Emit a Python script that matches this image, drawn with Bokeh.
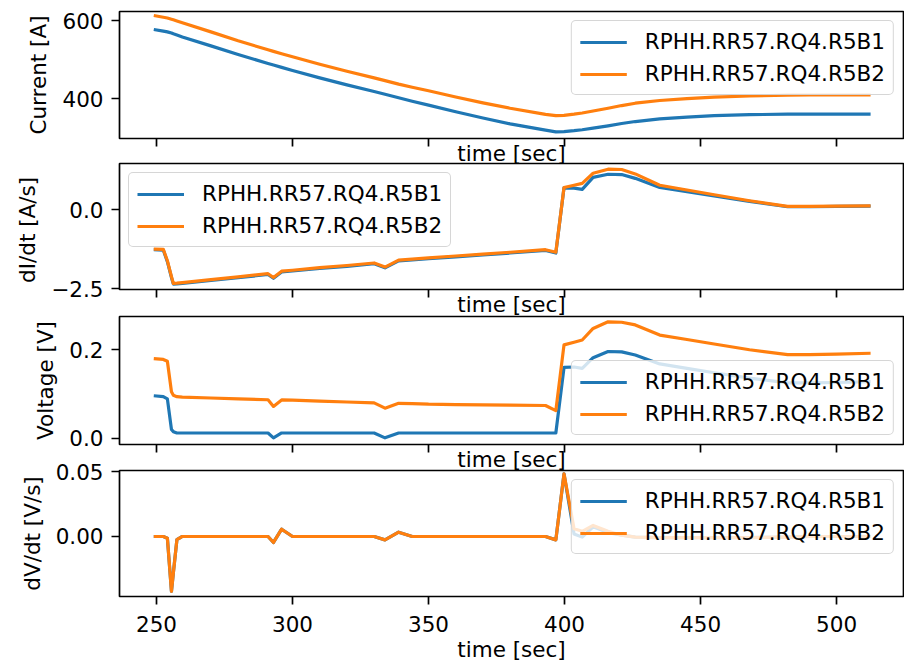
from bokeh.plotting import figure
from bokeh.layouts import column
from bokeh.models import Range1d, FixedTicker, Legend, LegendItem, CustomLabelingPolicy
from bokeh.embed import file_html
from bokeh.resources import INLINE

# ---------------- data ----------------
time_s = [249, 252.5, 254, 255.5, 256.2, 257.5, 259.5, 270, 280, 291,
          293, 296, 300, 310, 320, 330, 334, 339, 344, 350,
          360, 370, 380, 393, 396.8, 399.8, 403.5, 406.5, 410.5, 416,
          421, 426, 435, 445, 455, 468, 482, 490, 500, 512.5]

series_names = ["RPHH.RR57.RQ4.R5B1", "RPHH.RR57.RQ4.R5B2"]

current_b1 = [578, 574, 572, 569, 567, 564, 559, 536, 514, 491,
              487, 481, 473, 454, 436, 419, 412, 403, 394, 384,
              367, 351, 336, 320, 315.5, 316, 318.5, 321, 325, 331,
              337, 342, 349, 353.5, 357, 359.5, 361, 361, 361, 361]
current_b2 = [614, 609.5, 607.5, 604.5, 603, 600, 595.5, 572, 549, 526,
              522, 516, 508, 489, 471, 454, 447, 438, 430, 421,
              405, 390, 376, 360.5, 357, 358, 361, 364, 369, 376,
              383, 389, 396, 401, 404.5, 407.5, 409.5, 410, 410, 410]

didt_b1 = [-1.27, -1.28, -1.65, -2.15, -2.36, -2.355, -2.335, -2.245, -2.155, -2.055,
           -2.175, -1.975, -1.945, -1.865, -1.795, -1.715, -1.845, -1.625, -1.595, -1.555,
           -1.495, -1.435, -1.375, -1.295, -1.375, 0.69, 0.68, 0.64, 1.02, 1.12,
           1.11, 0.99, 0.70, 0.57, 0.43, 0.26, 0.09, 0.09, 0.10, 0.11]
didt_b2 = [-1.25, -1.26, -1.62, -2.12, -2.34, -2.33, -2.31, -2.22, -2.13, -2.03,
           -2.15, -1.95, -1.92, -1.84, -1.77, -1.69, -1.82, -1.60, -1.57, -1.53,
           -1.47, -1.41, -1.35, -1.27, -1.35, 0.70, 0.77, 0.83, 1.15, 1.28,
           1.27, 1.13, 0.77, 0.62, 0.47, 0.28, 0.10, 0.10, 0.11, 0.12]

voltage_b1 = [0.096, 0.094, 0.089, 0.020, 0.015, 0.012, 0.012, 0.012, 0.012, 0.012,
              0.001, 0.012, 0.012, 0.012, 0.012, 0.012, 0.001, 0.012, 0.012, 0.012,
              0.012, 0.012, 0.012, 0.012, 0.012, 0.160, 0.161, 0.158, 0.182, 0.196,
              0.195, 0.188, 0.168, 0.158, 0.148, 0.136, 0.125, 0.125, 0.126, 0.128]
voltage_b2 = [0.180, 0.178, 0.174, 0.105, 0.097, 0.094, 0.093, 0.091, 0.089, 0.087,
              0.072, 0.0866, 0.086, 0.084, 0.082, 0.080, 0.068, 0.079, 0.0785, 0.077,
              0.076, 0.0755, 0.075, 0.074, 0.0625, 0.211, 0.217, 0.222, 0.248, 0.263,
              0.262, 0.256, 0.233, 0.223, 0.213, 0.200, 0.189, 0.189, 0.190, 0.192]

dvdt_b1 = [0, 0, -0.0013, -0.0423, -0.028, -0.0025, 0, 0, 0, 0,
           -0.0046, 0.0056, 0, 0, 0, 0, -0.0026, 0.0033, 0, 0,
           0, 0, 0, 0, -0.0026, 0.0482, 0.002, -0.0005, 0.0075, 0.003,
           0.001, -0.0005, -0.0008, -0.0008, -0.0008, -0.0008, -0.0005, 0, 0, 0]
dvdt_b2 = [0, 0, -0.0013, -0.0423, -0.028, -0.0025, 0, 0, 0, 0,
           -0.0046, 0.0056, 0, 0, 0, 0, -0.0026, 0.0033, 0, 0,
           0, 0, 0, 0, -0.0026, 0.0482, 0.006, 0.004, 0.0085, 0.004,
           0.001, -0.0005, -0.0008, -0.0008, -0.0008, -0.0008, -0.0005, 0, 0, 0]

x_ticks = [250, 300, 350, 400, 450, 500]
current_ticks = [400, 600]
current_tick_labels = ["400", "600"]
didt_ticks = [-2.5, 0.0]
didt_tick_labels = ["−2.5", "0.0"]
voltage_ticks = [0.0, 0.2]
voltage_tick_labels = ["0.0", "0.2"]
dvdt_ticks = [0.0, 0.05]
dvdt_tick_labels = ["0.00", "0.05"]

# ---------------- styling ----------------
BLUE = "#1f77b4"
ORANGE = "#ff7f0e"
FONT = "DejaVu Sans"
FS = "21.5px"
X_START, X_END = 236.4, 524.6

hide_labels = CustomLabelingPolicy(code="""
for (const i of indices)
  indices.unset(i)
""")


def panel(y1, y2, y_lo, y_hi, yticks, ylabels, ylabel, legend_loc,
          frame_h, top_border, bottom_border, margin_top, last):
    p = figure(frame_width=784, frame_height=frame_h,
               x_range=Range1d(X_START, X_END), y_range=Range1d(y_lo, y_hi),
               output_backend="svg", toolbar_location=None, title=None,
               min_border_left=119, min_border_right=1,
               min_border_top=top_border, min_border_bottom=bottom_border,
               background_fill_color="white", border_fill_alpha=0.0,
               margin=(margin_top, 0, 0, 0))
    r1 = p.line(time_s, y1, line_color=BLUE, line_width=3.2, line_join="round")
    r2 = p.line(time_s, y2, line_color=ORANGE, line_width=3.2, line_join="round")

    p.outline_line_color = "black"
    p.outline_line_width = 1.7
    p.xgrid.visible = False
    p.ygrid.visible = False

    for ax in (p.xaxis[0], p.yaxis[0]):
        ax.axis_line_color = None
        ax.major_tick_line_color = "black"
        ax.major_tick_line_width = 1.7
        ax.major_tick_out = 8
        ax.major_tick_in = 0
        ax.minor_tick_line_color = None
        ax.major_label_text_font = FONT
        ax.major_label_text_font_size = FS
        ax.major_label_text_color = "black"
        ax.axis_label_text_font = FONT
        ax.axis_label_text_font_size = FS
        ax.axis_label_text_font_style = "normal"
        ax.axis_label_text_color = "black"

    xa = p.xaxis[0]
    xa.ticker = FixedTicker(ticks=x_ticks)
    xa.axis_label = "time [sec]"
    if last:
        xa.major_label_standoff = 11
        xa.axis_label_standoff = 2
    else:
        xa.major_label_text_font_size = "0px"
        xa.major_label_policy = hide_labels
        xa.major_label_standoff = 0
        xa.axis_label_standoff = -6

    ya = p.yaxis[0]
    ya.ticker = FixedTicker(ticks=yticks)
    ya.major_label_overrides = {t: s for t, s in zip(yticks, ylabels)}
    ya.major_label_standoff = 8
    ya.axis_label = ylabel
    ya.axis_label_standoff = 8

    legend = Legend(items=[LegendItem(label=series_names[0], renderers=[r1]),
                           LegendItem(label=series_names[1], renderers=[r2])],
                    location=legend_loc)
    legend.label_text_font = FONT
    legend.label_text_font_size = FS
    legend.label_text_color = "black"
    legend.glyph_width = 47
    legend.glyph_height = 22
    legend.label_height = 22
    legend.label_standoff = 18
    legend.padding = 8
    legend.spacing = 7
    legend.margin = 9
    legend.border_line_color = "#cccccc"
    legend.border_line_width = 1.7
    legend.border_line_alpha = 0.8
    legend.background_fill_color = "white"
    legend.background_fill_alpha = 0.8
    try:
        legend.border_radius = 5
    except Exception:
        pass
    p.add_layout(legend)
    return p


# frames at y = 11-138, 163-289, 316-444, 470-596 (picture pixels)
p1 = panel(current_b1, current_b2, 298.5, 624.2, current_ticks, current_tick_labels,
           "Current [A]", "top_right", 127, 11, 45, 0, False)
p2 = panel(didt_b1, didt_b2, -2.53, 1.46, didt_ticks, didt_tick_labels,
           "dI/dt  [A/s]", "top_left", 126, 12, 45, -32, False)
p3 = panel(voltage_b1, voltage_b2, -0.014, 0.275, voltage_ticks, voltage_tick_labels,
           "Voltage [V]", "bottom_right", 128, 12, 45, -30, False)
p4 = panel(dvdt_b1, dvdt_b2, -0.0462, 0.0508, dvdt_ticks, dvdt_tick_labels,
           "dV/dt [V/s]", "top_right", 126, 12, 90, -31, True)

layout = column(p1, p2, p3, p4, spacing=0)

open("out.html", "w").write(file_html(layout, INLINE))
